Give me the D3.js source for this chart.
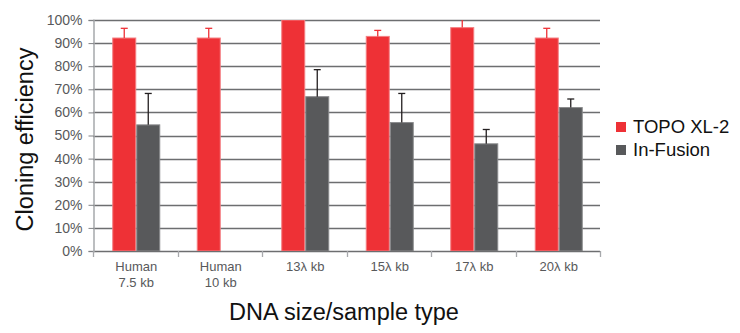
<!DOCTYPE html>
<html>
<head>
<meta charset="utf-8">
<script src="https://cdn.jsdelivr.net/npm/d3@7"></script>
<style>
  body { margin: 0; background: #fff; }
  svg { display: block; font-family: "Liberation Sans", Arial, sans-serif; }
</style>
</head>
<body>
<div id="chart"></div>
<script>
// Categories and series values (percent)
const categories = ["Human|7.5 kb", "Human|10 kb", "13λ kb", "15λ kb", "17λ kb", "20λ kb"];
const seriesNames = ["TOPO XL-2", "In-Fusion"];
const topoValues = [92.2, 92.2, 100, 92.9, 96.7, 92.2];
const topoErrors = [4.2, 4.2, 0, 2.6, 4.5, 4.2];
const infusionValues = [54.6, null, 66.8, 55.6, 46.4, 62.1];
const infusionErrors = [13.6, null, 11.7, 12.6, 6.2, 3.7];
const yTicks = [0, 10, 20, 30, 40, 50, 60, 70, 80, 90, 100];

const colors = { "TOPO XL-2": "#ee3136", "In-Fusion": "#58595b" };
const edgeColors = { "TOPO XL-2": "#f47f82", "In-Fusion": "#8a8b8d" };
const errColors = { "TOPO XL-2": "#ee3136", "In-Fusion": "#231f20" };

const width = 740, height = 333;
const margin = { top: 20, right: 140, bottom: 82, left: 93 };

// build rows per category
const rows = categories.map((c, i) => ({
  cat: c,
  values: [
    { key: "TOPO XL-2", value: topoValues[i], err: topoErrors[i] },
    { key: "In-Fusion", value: infusionValues[i], err: infusionErrors[i] }
  ]
}));

const svg = d3.select("#chart").append("svg")
  .attr("width", width)
  .attr("height", height);

const x0 = d3.scaleBand()
  .domain(categories)
  .range([margin.left, width - margin.right]);

const x1 = d3.scaleBand()
  .domain(seriesNames)
  .range([0, x0.bandwidth()])
  .paddingOuter(0.76);

const y = d3.scaleLinear()
  .domain([0, 100])
  .range([height - margin.bottom, margin.top]);

// clip everything to the plot area (errors above 100% get cut)
svg.append("clipPath").attr("id", "plot-clip")
  .append("rect")
  .attr("x", margin.left)
  .attr("y", margin.top)
  .attr("width", width - margin.right - margin.left)
  .attr("height", height - margin.bottom - margin.top);

// gridlines
svg.append("g")
  .selectAll("line")
  .data(yTicks)
  .join("line")
  .attr("x1", margin.left)
  .attr("x2", width - margin.right)
  .attr("y1", d => Math.round(y(d)) + 0.5)
  .attr("y2", d => Math.round(y(d)) + 0.5)
  .attr("stroke", "#6d6e70")
  .attr("stroke-width", 1.3);

// y axis
const yAxis = svg.append("g")
  .attr("transform", `translate(${margin.left + 0.5},0)`)
  .call(d3.axisLeft(y).tickValues(yTicks).tickSize(5).tickPadding(6).tickFormat(d => d + "%"));
yAxis.select(".domain").attr("stroke", "#a7a9ac").attr("stroke-width", 1.5);
yAxis.selectAll(".tick line").attr("stroke", "#808285");
yAxis.selectAll("text")
  .attr("font-size", 14)
  .attr("fill", "#58595b")
  .attr("font-family", "'Liberation Sans', Arial, sans-serif");

// x axis ticks (between categories)
const xTickPos = categories.map(c => x0(c)).concat([x0.range()[1]]);
svg.append("g")
  .selectAll("line")
  .data(xTickPos)
  .join("line")
  .attr("x1", d => Math.round(d) + 0.5)
  .attr("x2", d => Math.round(d) + 0.5)
  .attr("y1", y(0))
  .attr("y2", y(0) + 6)
  .attr("stroke", "#a7a9ac")
  .attr("stroke-width", 1.3);

// x labels
svg.append("g")
  .selectAll("text")
  .data(categories)
  .join("text")
  .attr("text-anchor", "middle")
  .attr("font-size", 13)
  .attr("fill", "#58595b")
  .attr("x", d => x0(d) + x0.bandwidth() / 2 + 1)
  .attr("y", y(0) + 20)
  .selectAll("tspan")
  .data(d => d.split("|"))
  .join("tspan")
  .attr("x", function () { return this.parentNode.getAttribute("x"); })
  .attr("dy", (d, i) => i === 0 ? 0 : 15.5)
  .text(d => d);

// bars
const plot = svg.append("g").attr("clip-path", "url(#plot-clip)");
const groups = plot.selectAll("g.cat")
  .data(rows)
  .join("g")
  .attr("class", "cat")
  .attr("transform", d => `translate(${x0(d.cat) + 1},0)`);

groups.selectAll("rect")
  .data(d => d.values.filter(v => v.value != null))
  .join("rect")
  .attr("x", d => x1(d.key) + 0.5)
  .attr("width", x1.bandwidth() - 1)
  .attr("y", d => y(d.value))
  .attr("height", d => y(0) - y(d.value))
  .attr("fill", d => colors[d.key])
  .attr("stroke", d => edgeColors[d.key])
  .attr("stroke-width", 1);

// error bars (upper only)
const errs = groups.selectAll("g.err")
  .data(d => d.values.filter(v => v.value != null && v.err > 0))
  .join("g")
  .attr("class", "err")
  .attr("stroke", d => errColors[d.key])
  .attr("stroke-width", 1.3);

errs.append("line")
  .attr("x1", d => x1(d.key) + x1.bandwidth() / 2)
  .attr("x2", d => x1(d.key) + x1.bandwidth() / 2)
  .attr("y1", d => y(d.value))
  .attr("y2", d => y(d.value + d.err));

errs.append("line")
  .attr("x1", d => x1(d.key) + x1.bandwidth() / 2 - 3.5)
  .attr("x2", d => x1(d.key) + x1.bandwidth() / 2 + 3.5)
  .attr("y1", d => y(d.value + d.err))
  .attr("y2", d => y(d.value + d.err));

// axis titles
svg.append("text")
  .attr("transform", `translate(33,${(y(0) + y(100)) / 2 + 4}) rotate(-90)`)
  .attr("text-anchor", "middle")
  .attr("font-size", 23.5)
  .attr("fill", "#111")
  .text("Cloning efficiency");

svg.append("text")
  .attr("x", 344)
  .attr("y", 320)
  .attr("text-anchor", "middle")
  .attr("font-size", 23.5)
  .attr("fill", "#111")
  .text("DNA size/sample type");

// legend
const legend = svg.append("g")
  .attr("transform", "translate(616,122)")
  .selectAll("g")
  .data(seriesNames)
  .join("g")
  .attr("transform", (d, i) => `translate(0,${i * 23})`);

legend.append("rect")
  .attr("width", 10)
  .attr("height", 10)
  .attr("fill", d => colors[d]);

legend.append("text")
  .attr("x", 17)
  .attr("y", 11)
  .attr("font-size", 18.5)
  .attr("fill", "#111")
  .text(d => d);
</script>
</body>
</html>
